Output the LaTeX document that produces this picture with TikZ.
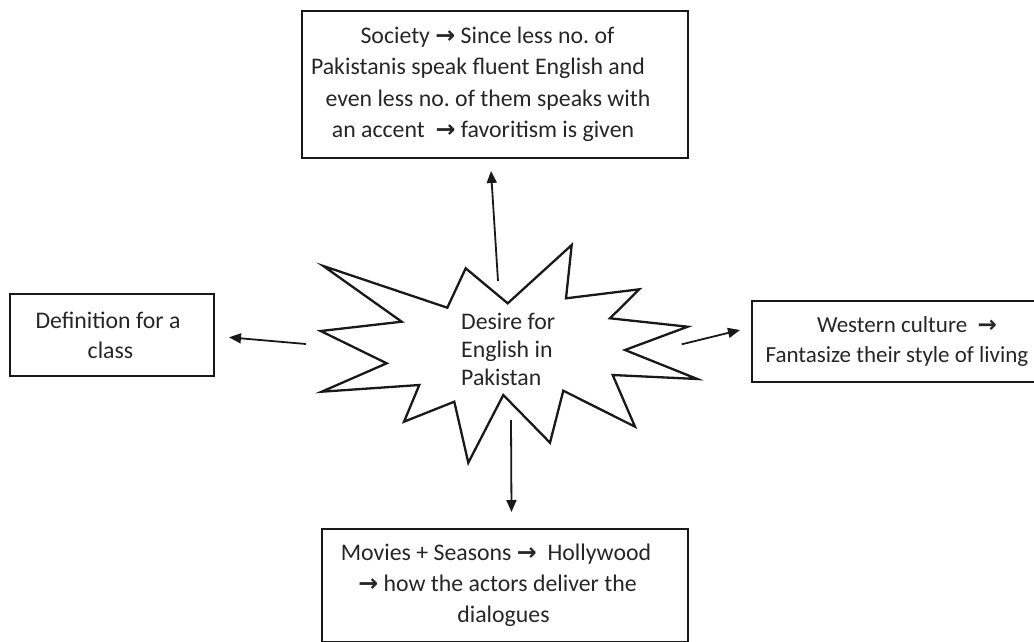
\documentclass[tikz,border=0pt]{standalone}
\usepackage{fontspec}
\setmainfont{Carlito}
\newfontfamily\arrfont{DejaVu Sans}
\newcommand{\rarr}{{\arrfont\bfseries →}}
\usetikzlibrary{arrows.meta}
\frenchspacing
\begin{document}
\begin{tikzpicture}[x=1pt,y=-1pt,
  box/.style={draw=black!90, line width=1.8pt, inner sep=0pt, align=center, text=black!85},
  txt/.style={font=\fontsize{23.8}{#1}\selectfont\frenchspacing},
  conn/.style={draw=black!90, line width=1.8pt, -{Triangle[length=12pt,width=10pt]}},
  burst/.style={draw=black!90, line width=2.3pt, line join=miter}]
\useasboundingbox (0,0) rectangle (1034,641);
% starburst
\draw[burst] (323.3,266) -- (447.3,307.7) -- (465.7,268.3) -- (507.7,303.3)
  -- (571.7,245) -- (566,298.3) -- (639.3,289.3) -- (610,318.3)
  -- (687.7,326.7) -- (625,350) -- (697.3,379) -- (612.7,375)
  -- (635,426.7) -- (563.3,390.7) -- (550,442.7) -- (503.3,395)
  -- (468.3,462.7) -- (454.3,401.7) -- (404,421.7) -- (419.3,385)
  -- (321.7,391.7) -- (386.7,363.3) -- (320.7,331) -- (401.7,321.7) -- cycle;
\node[txt=28, align=left, anchor=north west, inner sep=0pt, text=black!85] (desire) at (461,313)
  {Desire for\\English in\\Pakistan};
% boxes
\node[box, txt=31.5, minimum width=386pt, minimum height=147pt] (society) at (495,84.5)
  {Society \rarr\ Since less no. of\kern15pt\\
   Pakistanis speak fluent English and\kern34pt\\
   even less no. of them speaks with\kern14pt\\
   an accent \ \rarr\ favoritism is given\kern24pt};
\node[box, txt=30, minimum width=204pt, minimum height=82pt] (classdef) at (112,335)
  {Definition for a\kern8pt\\class\kern3pt};
\node[box, font=\fontsize{23}{29.5}\selectfont\frenchspacing, minimum width=290.6pt, minimum height=81.3pt] (western) at (897,341.7)
  {\kern20pt Western culture \ \rarr\\Fantasize their style of living};
\node[box, txt=31, minimum width=365.4pt, minimum height=112.8pt] (movies) at (505,585.7)
  {Movies + Seasons \rarr\ \ Hollywood\kern18pt\\
   \rarr\ how the actors deliver the\kern15pt\\
   dialogues\kern3pt};
% connector ends
\coordinate (tTail) at (498,281);   \coordinate (tTip) at (491,171);
\coordinate (lTail) at (306,344);   \coordinate (lTip) at (229,337.3);
\coordinate (rTail) at (681.7,344.3); \coordinate (rTip) at (740,330);
\coordinate (bTail) at (511,420);   \coordinate (bTip) at (511.5,512);
\draw[conn] (tTail) -- (tTip);
\draw[conn] (lTail) -- (lTip);
\draw[conn] (rTail) -- (rTip);
\draw[conn] (bTail) -- (bTip);
\end{tikzpicture}
\end{document}
